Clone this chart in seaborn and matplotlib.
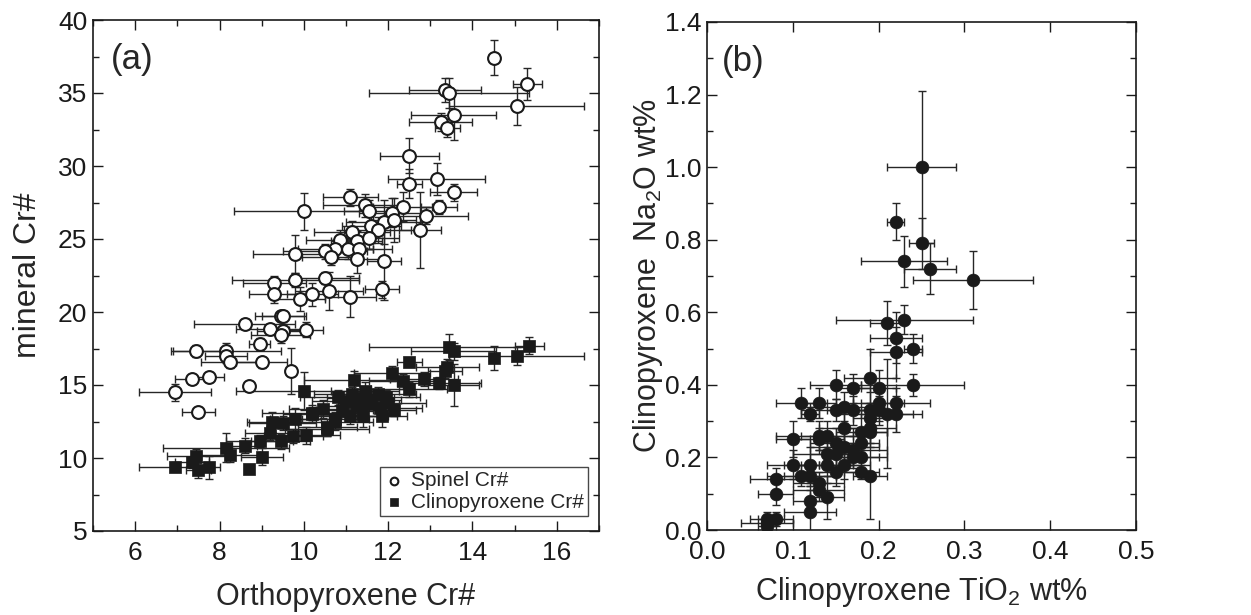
import numpy as np
import pandas as pd
import matplotlib
matplotlib.use("Agg")
import matplotlib.pyplot as plt
from matplotlib.ticker import MultipleLocator
import seaborn as sns

# ---------------- Panel (a) data ----------------
sp_opx = [14.5, 15.3, 13.35, 13.45, 15.05, 13.55, 13.25, 13.4, 12.5, 13.15, 12.5, 13.55, 13.2, 12.9,
          12.35, 12.75, 10.0, 11.1, 11.45, 11.55, 12.1, 11.9, 12.15, 11.6, 11.75, 11.15, 10.85, 11.25,
          11.55, 10.75, 11.05, 11.3, 10.5, 10.65, 9.8, 11.25, 11.9, 10.5, 9.8, 9.3, 10.6, 10.2, 11.1,
          11.85, 9.3, 9.9, 9.45, 9.5, 8.6, 9.2, 9.5, 9.45, 10.05, 8.95, 7.45, 8.15, 8.15, 8.25, 9.0,
          9.7, 7.35, 7.75, 6.95, 8.7, 7.5]
sp_cr = [37.4, 35.6, 35.2, 35.0, 34.1, 33.5, 33.0, 32.6, 30.7, 29.1, 28.8, 28.2, 27.2, 26.6,
         27.2, 25.6, 26.9, 27.85, 27.3, 26.9, 26.8, 26.15, 26.3, 25.9, 25.6, 25.45, 24.95, 24.85,
         25.1, 24.3, 24.3, 24.3, 24.15, 23.8, 23.95, 23.6, 23.5, 22.35, 22.2, 22.0, 21.45, 21.2, 21.05,
         21.55, 21.2, 20.9, 19.7, 19.75, 19.2, 18.85, 18.7, 18.4, 18.8, 17.8, 17.35, 17.35, 17.0, 16.55, 16.55,
         15.95, 15.4, 15.55, 14.5, 14.9, 13.15]
sp_xerr = [0.1, 0.35, 0.85, 1.9, 1.6, 1.0, 0.75, 0.3, 0.7, 1.15, 0.3, 0.55, 0.43, 1.0,
           0.7, 0.5, 1.65, 0.65, 1.0, 0.6, 0.8, 0.9, 0.5, 0.7, 0.8, 0.9, 0.8, 0.6,
           0.7, 0.9, 0.6, 0.8, 1.0, 0.7, 1.0, 0.7, 0.4, 0.8, 1.5, 0.75, 0.8, 0.6, 0.6,
           0.4, 0.6, 0.6, 0.6, 0.5, 1.2, 0.8, 0.6, 0.7, 0.4, 0.25, 0.55, 1.3, 0.5, 0.7, 0.6,
           0.1, 0.4, 0.35, 0.85, 0.1, 0.4]
sp_yerr = [1.2, 1.1, 0.8, 1.0, 1.3, 1.7, 0.6, 0.6, 1.2, 1.1, 1.0, 0.6, 0.5, 0.6,
           1.0, 2.6, 1.25, 0.6, 0.8, 0.8, 1.0, 1.5, 1.5, 1.2, 0.9, 0.8, 0.7, 0.7,
           0.8, 0.6, 0.7, 0.9, 0.5, 0.6, 1.3, 0.9, 2.7, 0.4, 0.5, 0.5, 1.3, 0.8, 1.4,
           0.6, 0.6, 0.8, 0.3, 0.3, 0.3, 0.3, 0.5, 0.5, 0.5, 0.4, 0.4, 0.5, 0.5, 0.4, 0.4,
           1.6, 0.3, 0.3, 0.6, 0.1, 0.2]

cpx_opx = [15.35, 15.05, 14.5, 13.45, 13.55, 12.5, 13.4, 13.35, 12.1, 13.55, 13.2, 12.85, 12.35, 12.5,
           11.2, 10.0, 12.15, 11.85, 10.2, 9.25, 9.5, 9.8, 9.2, 9.45, 9.75, 10.05, 10.55, 10.75, 8.95,
           8.6, 9.0, 8.15, 8.25, 7.45, 7.35, 6.95, 7.5, 7.75, 8.7, 10.8, 11.15, 11.45, 11.75, 11.95,
           11.25, 11.55, 11.8, 10.45, 10.75, 10.55, 11.1, 11.4, 10.2, 11.0, 11.6, 12.0, 10.9, 11.35]
cpx_cr = [17.7, 17.0, 16.85, 17.6, 17.3, 16.6, 16.25, 15.95, 15.8, 15.0, 15.15, 15.4, 15.25, 14.7,
          15.35, 14.6, 13.3, 12.9, 13.1, 12.45, 12.4, 12.65, 11.7, 11.15, 11.5, 11.55, 12.0, 12.45, 11.15,
          10.85, 10.1, 10.7, 10.2, 10.15, 9.7, 9.4, 9.15, 9.35, 9.25, 14.15, 14.35, 14.6, 14.35, 14.15,
          13.55, 13.7, 13.45, 13.35, 12.65, 12.1, 12.9, 12.9, 13.0, 13.9, 14.0, 13.8, 13.3, 14.1]
cpx_xerr = [0.35, 1.6, 0.1, 1.9, 1.0, 0.3, 0.75, 0.4, 0.9, 0.6, 1.0, 0.8, 0.8, 0.9,
            1.2, 1.6, 0.5, 0.6, 1.2, 0.6, 0.8, 0.6, 0.6, 0.7, 0.7, 0.8, 1.0, 0.9, 0.8,
            0.3, 0.5, 1.5, 0.7, 0.7, 0.4, 0.85, 0.3, 0.25, 0.1, 0.9, 0.9, 0.8, 0.9, 0.8,
            0.8, 0.7, 1.0, 0.8, 0.8, 0.7, 0.9, 0.8, 0.7, 0.8, 0.7, 0.9, 0.6, 0.8]
cpx_yerr = [0.6, 0.6, 0.8, 0.9, 0.6, 0.2, 0.5, 0.5, 0.5, 1.45, 0.4, 0.5, 0.5, 0.5,
            0.6, 1.3, 0.4, 0.8, 0.5, 0.7, 0.5, 0.8, 0.5, 0.5, 0.5, 0.6, 0.5, 0.5, 0.4,
            0.5, 0.6, 1.0, 0.5, 0.5, 0.4, 0.3, 0.5, 0.8, 0.1, 0.5, 0.5, 0.6, 0.5, 0.5,
            0.6, 0.5, 0.6, 0.6, 0.5, 0.6, 0.6, 0.8, 0.5, 0.5, 0.6, 0.5, 0.5, 0.6]

# ---------------- Panel (b) data ----------------
ti = [0.25, 0.22, 0.25, 0.23, 0.26, 0.31, 0.21, 0.23, 0.22, 0.24, 0.22, 0.19, 0.15, 0.17, 0.20, 0.24,
      0.11, 0.13, 0.12, 0.15, 0.16, 0.17, 0.19, 0.20, 0.20, 0.21, 0.22, 0.22, 0.19, 0.16, 0.19, 0.18,
      0.19, 0.10, 0.13, 0.13, 0.14, 0.15, 0.16, 0.17, 0.18, 0.14, 0.15, 0.17, 0.18, 0.10, 0.12, 0.14,
      0.16, 0.15, 0.18, 0.19, 0.11, 0.12, 0.08, 0.13, 0.13, 0.08, 0.14, 0.12, 0.12, 0.08, 0.07, 0.07, 0.07]
na = [1.00, 0.85, 0.79, 0.74, 0.72, 0.69, 0.57, 0.58, 0.53, 0.50, 0.49, 0.42, 0.40, 0.39, 0.39, 0.40,
      0.35, 0.35, 0.32, 0.33, 0.34, 0.33, 0.33, 0.35, 0.33, 0.32, 0.35, 0.32, 0.31, 0.28, 0.28, 0.27,
      0.27, 0.25, 0.26, 0.25, 0.26, 0.24, 0.23, 0.22, 0.24, 0.21, 0.21, 0.20, 0.20, 0.18, 0.18, 0.18,
      0.18, 0.16, 0.16, 0.15, 0.15, 0.15, 0.14, 0.13, 0.11, 0.10, 0.09, 0.08, 0.05, 0.03, 0.03, 0.02, 0.01]
ti_err = [0.04, 0.01, 0.015, 0.05, 0.03, 0.07, 0.02, 0.08, 0.03, 0.01, 0.03, 0.03, 0.03, 0.02, 0.02, 0.06,
          0.03, 0.02, 0.01, 0.04, 0.04, 0.03, 0.03, 0.03, 0.02, 0.03, 0.04, 0.03, 0.02, 0.03, 0.03, 0.03,
          0.02, 0.02, 0.05, 0.03, 0.03, 0.03, 0.04, 0.04, 0.02, 0.04, 0.03, 0.03, 0.03, 0.03, 0.03, 0.03,
          0.03, 0.03, 0.02, 0.02, 0.04, 0.03, 0.03, 0.03, 0.03, 0.02, 0.02, 0.02, 0.03, 0.02, 0.02, 0.03, 0.01]
na_err = [0.21, 0.05, 0.07, 0.07, 0.07, 0.08, 0.06, 0.04, 0.07, 0.04, 0.07, 0.08, 0.04, 0.04, 0.05, 0.03,
          0.04, 0.04, 0.02, 0.03, 0.04, 0.04, 0.05, 0.05, 0.04, 0.15, 0.04, 0.05, 0.04, 0.04, 0.04, 0.05,
          0.04, 0.05, 0.04, 0.03, 0.04, 0.04, 0.04, 0.04, 0.03, 0.04, 0.04, 0.03, 0.03, 0.04, 0.05, 0.05,
          0.04, 0.04, 0.02, 0.12, 0.03, 0.03, 0.03, 0.03, 0.03, 0.03, 0.06, 0.03, 0.07, 0.02, 0.02, 0.02, 0.02]

sp = pd.DataFrame({"opx": sp_opx, "cr": sp_cr, "xe": sp_xerr, "ye": sp_yerr})
cpx = pd.DataFrame({"opx": cpx_opx, "cr": cpx_cr, "xe": cpx_xerr, "ye": cpx_yerr})
cb = pd.DataFrame({"ti": ti, "na": na, "xe": ti_err, "ye": na_err})

sns.set_theme(style="ticks")
plt.rcParams["font.family"] = ["Liberation Sans", "DejaVu Sans"]
plt.rcParams["mathtext.fontset"] = "custom"
plt.rcParams["mathtext.rm"] = "Liberation Sans"
plt.rcParams["mathtext.it"] = "Liberation Sans:italic"

fig = plt.figure(figsize=(12.51, 6.15), dpi=100)
axA = fig.add_axes([93 / 1251, 1 - 531 / 615, (599 - 93) / 1251, (531 - 20) / 615])
axB = fig.add_axes([707 / 1251, 1 - 530 / 615, (1136 - 707) / 1251, (530 - 22) / 615])

ecol = "#262626"
ekw = dict(fmt="none", ecolor=ecol, elinewidth=1.0, capsize=3, capthick=1.0, zorder=2)

# Panel a
axA.errorbar(sp["opx"], sp["cr"], xerr=sp["xe"], yerr=sp["ye"], **ekw)
axA.errorbar(cpx["opx"], cpx["cr"], xerr=cpx["xe"], yerr=cpx["ye"], **ekw)
sns.scatterplot(data=sp, x="opx", y="cr", ax=axA, marker="o", s=85, facecolor="white",
                edgecolor="#1a1a1a", linewidth=1.5, zorder=3, label="Spinel Cr#")
sns.scatterplot(data=cpx, x="opx", y="cr", ax=axA, marker="s", s=75, color="#1a1a1a",
                edgecolor="#1a1a1a", linewidth=0.5, zorder=3, label="Clinopyroxene Cr#")
axA.set_xlim(5, 17)
axA.set_ylim(5, 40)
axA.xaxis.set_major_locator(MultipleLocator(2))
axA.xaxis.set_minor_locator(MultipleLocator(1))
axA.yaxis.set_major_locator(MultipleLocator(5))
axA.yaxis.set_minor_locator(MultipleLocator(2.5))
axA.set_xlabel("Orthopyroxene Cr#", fontsize=22)
axA.set_ylabel("mineral Cr#", fontsize=23)
axA.xaxis.label.set_va("center")
axA.yaxis.label.set_va("center")
axA.xaxis.set_label_coords(0.5, (531 - 597) / 511)
axA.yaxis.set_label_coords((28 - 93) / 506, 0.5)
axA.text(0.035, 0.955, "(a)", transform=axA.transAxes, fontsize=25, va="top", ha="left")
leg = axA.legend(loc="lower right", bbox_to_anchor=(0.978, 0.03), fontsize=15, markerscale=0.6,
                 frameon=True, fancybox=False, edgecolor="#1a1a1a", handletextpad=0.3,
                 borderpad=0.2, labelspacing=0.1, handlelength=1.0, borderaxespad=0)
leg.get_frame().set_linewidth(1.0)

# Panel b
axB.errorbar(cb["ti"], cb["na"], xerr=cb["xe"], yerr=cb["ye"], **ekw)
sns.scatterplot(data=cb, x="ti", y="na", ax=axB, marker="o", s=85, color="#1a1a1a",
                edgecolor="#1a1a1a", linewidth=0.5, zorder=3)
axB.set_xlim(0, 0.5)
axB.set_ylim(0, 1.4)
axB.xaxis.set_major_locator(MultipleLocator(0.1))
axB.yaxis.set_major_locator(MultipleLocator(0.2))
axB.yaxis.set_minor_locator(MultipleLocator(0.1))
axB.set_xlabel("Clinopyroxene TiO$_2$ wt%", fontsize=22)
axB.set_ylabel("Clinopyroxene  Na$_2$O wt%", fontsize=22)
axB.xaxis.label.set_va("center")
axB.yaxis.label.set_va("center")
axB.xaxis.set_label_coords(0.5, (530 - 592) / 508)
axB.yaxis.set_label_coords((648 - 707) / 429, 0.5)
axB.text(0.035, 0.955, "(b)", transform=axB.transAxes, fontsize=25, va="top", ha="left")

for ax in (axA, axB):
    for s in ax.spines.values():
        s.set_linewidth(1.2)
        s.set_color("#1a1a1a")
    ax.tick_params(which="both", direction="in", top=True, right=True, labelsize=19,
                   colors="#1a1a1a", width=1.0)
    ax.tick_params(which="major", length=7)
    ax.tick_params(which="minor", length=4)
    ax.tick_params(axis="x", which="major", pad=7)
    ax.tick_params(axis="y", which="major", pad=4)

fig.savefig("out.png", dpi=100)
